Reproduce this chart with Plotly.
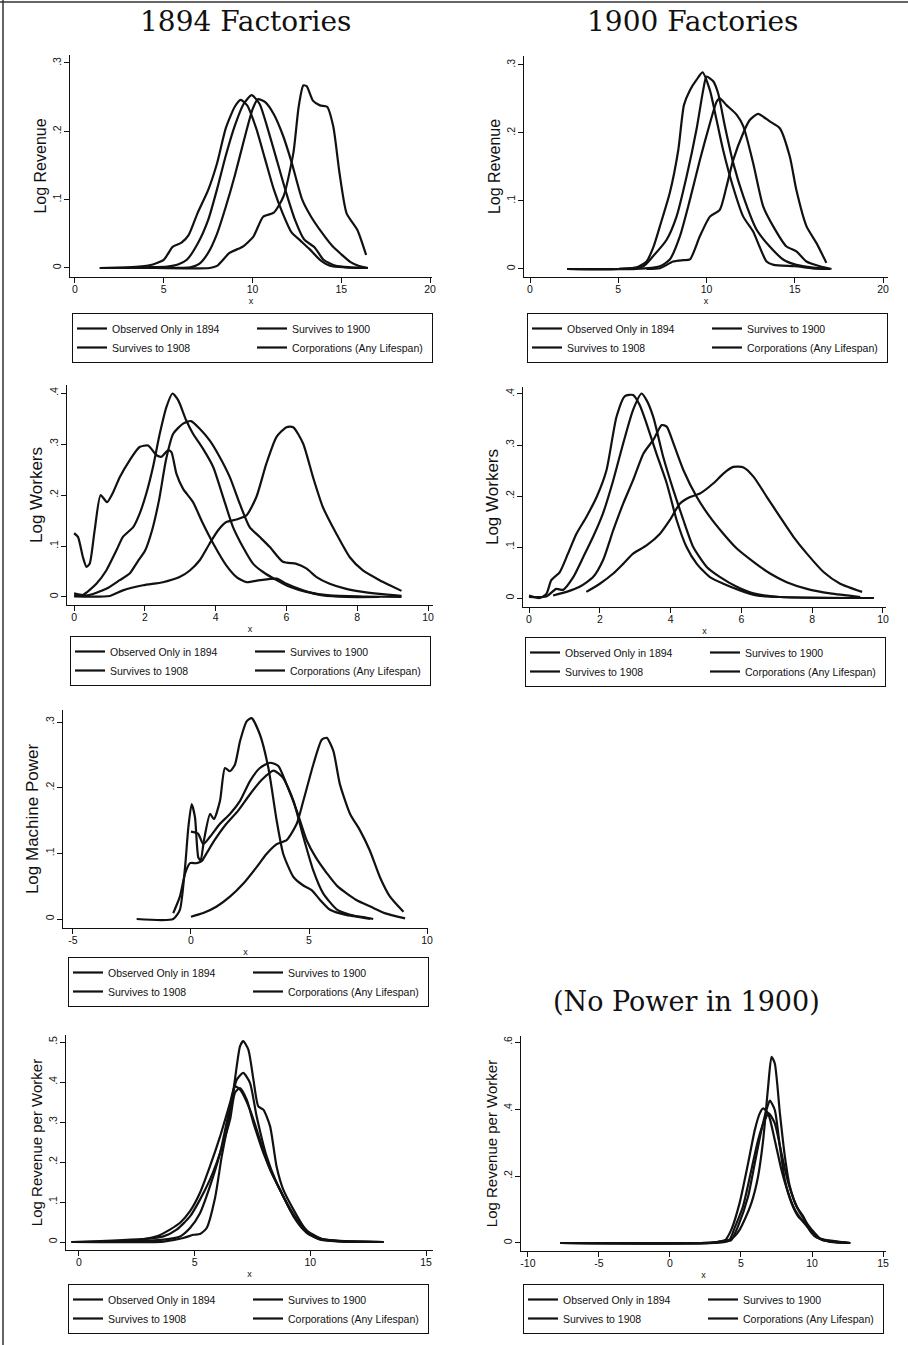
import plotly.graph_objects as go

W, H = 908, 1345

SERIES = ["Observed Only in 1894", "Survives to 1900", "Survives to 1908", "Corporations (Any Lifespan)"]

# ---------------- Panel 1: Log Revenue, 1894 ----------------
p1_obs_x = [1.4, 3.0, 4.2, 5.0, 5.5, 6.0, 6.4, 6.9, 7.5, 8.0, 8.5, 9.0, 9.33, 9.7, 10.2, 10.7, 11.2, 11.7, 12.2, 12.7, 13.2, 13.8, 14.4, 15.2, 16.4]
p1_obs_y = [0, 0.001, 0.004, 0.012, 0.031, 0.037, 0.048, 0.08, 0.114, 0.153, 0.205, 0.236, 0.246, 0.238, 0.205, 0.16, 0.115, 0.08, 0.052, 0.04, 0.028, 0.012, 0.003, 0.001, 0]
p1_s1900_x = [1.4, 4.0, 5.2, 5.8, 6.3, 6.9, 7.5, 8.0, 8.5, 9.0, 9.5, 9.95, 10.4, 10.9, 11.4, 11.9, 12.4, 12.9, 13.5, 14.0, 14.7, 15.5, 16.5]
p1_s1900_y = [0, 0.001, 0.002, 0.005, 0.012, 0.035, 0.07, 0.115, 0.165, 0.208, 0.24, 0.253, 0.24, 0.2, 0.155, 0.11, 0.07, 0.042, 0.03, 0.012, 0.003, 0.001, 0]
p1_s1908_x = [1.4, 5.0, 6.5, 7.0, 7.5, 8.0, 8.5, 9.0, 9.5, 10.0, 10.3, 10.7, 11.2, 11.7, 12.2, 12.8, 13.3, 13.9, 14.5, 15.0, 15.5, 16.0, 16.5]
p1_s1908_y = [0, 0, 0.001, 0.006, 0.022, 0.05, 0.09, 0.135, 0.185, 0.232, 0.247, 0.243, 0.225, 0.195, 0.155, 0.1, 0.075, 0.052, 0.032, 0.02, 0.009, 0.003, 0]
p1_corp_x = [4.5, 7.6, 8.0, 8.7, 9.2, 9.5, 10.05, 10.6, 11.2, 11.75, 12.3, 12.6, 12.86, 13.05, 13.4, 13.8, 14.2, 14.55, 14.9, 15.3, 15.9, 16.4]
p1_corp_y = [0, 0, 0.003, 0.022, 0.028, 0.032, 0.046, 0.075, 0.081, 0.105, 0.168, 0.236, 0.267, 0.266, 0.245, 0.238, 0.236, 0.207, 0.139, 0.08, 0.056, 0.019]

# ---------------- Panel 2: Log Revenue, 1900 ----------------
p2_obs_x = [2.1, 5.0, 6.0, 6.6, 7.0, 7.36, 7.92, 8.4, 8.72, 9.06, 9.43, 9.77, 10.19, 10.57, 10.94, 11.5, 12.08, 12.64, 13.0, 13.4, 13.8, 15.0, 16.0, 17.0]
p2_obs_y = [0, 0, 0.002, 0.011, 0.033, 0.063, 0.112, 0.175, 0.241, 0.263, 0.278, 0.289, 0.263, 0.219, 0.175, 0.121, 0.077, 0.055, 0.033, 0.011, 0.006, 0.004, 0.001, 0]
p2_s1900_x = [2.1, 5.0, 6.42, 6.98, 7.74, 8.3, 8.87, 9.43, 9.81, 10.0, 10.38, 10.66, 11.04, 11.51, 12.08, 12.83, 13.58, 14.34, 15.09, 16.04, 16.98]
p2_s1900_y = [0, 0, 0.004, 0.019, 0.043, 0.077, 0.136, 0.205, 0.263, 0.283, 0.276, 0.258, 0.21, 0.156, 0.107, 0.058, 0.033, 0.014, 0.006, 0.002, 0]
p2_s1908_x = [2.1, 6.0, 7.36, 7.92, 8.49, 9.06, 9.62, 10.19, 10.57, 10.75, 11.13, 11.7, 12.08, 12.64, 13.21, 13.77, 14.53, 15.09, 15.66, 16.42, 17.08]
p2_s1908_y = [0, 0, 0.004, 0.014, 0.048, 0.102, 0.16, 0.214, 0.246, 0.251, 0.241, 0.227, 0.21, 0.156, 0.092, 0.063, 0.033, 0.026, 0.011, 0.004, 0]
p2_corp_x = [6.6, 7.36, 8.11, 8.68, 9.06, 9.62, 10.19, 10.75, 11.13, 11.51, 12.08, 12.45, 12.92, 13.58, 14.15, 14.72, 15.09, 15.66, 16.23, 16.79]
p2_corp_y = [0, 0.001, 0.011, 0.013, 0.014, 0.048, 0.077, 0.087, 0.121, 0.16, 0.2, 0.219, 0.228, 0.217, 0.207, 0.165, 0.116, 0.063, 0.038, 0.009]

# ---------------- Panel 3: Log Workers, 1894 ----------------
p3_obs_x = [0, 0.11, 0.25, 0.35, 0.44, 0.58, 0.75, 0.93, 1.10, 1.29, 1.57, 1.85, 2.09, 2.33, 2.47, 2.66, 2.75, 2.89, 3.08, 3.36, 3.64, 3.93, 4.30, 4.59, 4.87, 5.25, 5.72, 6.0, 6.47, 7.03, 7.69, 8.63]
p3_obs_y = [0.125, 0.118, 0.078, 0.059, 0.065, 0.13, 0.2, 0.186, 0.205, 0.235, 0.268, 0.294, 0.297, 0.278, 0.275, 0.288, 0.284, 0.242, 0.212, 0.186, 0.144, 0.105, 0.062, 0.039, 0.029, 0.033, 0.036, 0.026, 0.013, 0.003, 0.0, 0.0]
p3_s1900_x = [0, 0.25, 0.63, 0.91, 1.2, 1.38, 1.67, 1.85, 2.04, 2.23, 2.42, 2.61, 2.78, 2.94, 3.17, 3.36, 3.64, 3.93, 4.21, 4.49, 4.77, 5.06, 5.34, 5.72, 6.09, 6.56, 7.22, 8.16, 9.25]
p3_s1900_y = [0.003, 0.004, 0.026, 0.052, 0.092, 0.118, 0.137, 0.163, 0.203, 0.255, 0.32, 0.373, 0.399, 0.386, 0.346, 0.32, 0.291, 0.255, 0.196, 0.137, 0.098, 0.065, 0.049, 0.033, 0.02, 0.01, 0.003, 0.001, 0]
p3_s1908_x = [0, 0.35, 0.91, 1.29, 1.57, 1.8, 2.0, 2.2, 2.4, 2.6, 2.8, 3.08, 3.3, 3.55, 3.83, 4.11, 4.4, 4.68, 4.96, 5.24, 5.53, 5.9, 6.28, 6.56, 6.85, 7.22, 7.69, 8.16, 8.63, 9.25]
p3_s1908_y = [0.007, 0.003, 0.016, 0.033, 0.046, 0.07, 0.09, 0.13, 0.19, 0.27, 0.32, 0.34, 0.345, 0.33, 0.307, 0.275, 0.235, 0.183, 0.137, 0.118, 0.098, 0.069, 0.065, 0.056, 0.039, 0.026, 0.016, 0.01, 0.006, 0.002]
p3_corp_x = [0, 1.01, 1.38, 1.95, 2.51, 2.98, 3.27, 3.55, 3.83, 4.07, 4.3, 4.59, 4.87, 5.15, 5.43, 5.72, 6.0, 6.19, 6.47, 6.75, 7.03, 7.41, 7.79, 8.16, 8.63, 8.92, 9.25]
p3_corp_y = [0.001, 0.002, 0.013, 0.023, 0.029, 0.039, 0.052, 0.072, 0.105, 0.131, 0.147, 0.152, 0.16, 0.196, 0.261, 0.314, 0.333, 0.333, 0.301, 0.235, 0.176, 0.124, 0.078, 0.052, 0.033, 0.023, 0.012]

# ---------------- Panel 4: Log Workers, 1900 ----------------
p4_obs_x = [0, 0.3, 0.49, 0.63, 0.87, 1.1, 1.34, 1.62, 1.91, 2.19, 2.47, 2.71, 2.94, 3.13, 3.32, 3.6, 3.89, 4.17, 4.45, 4.74, 5.11, 5.49, 5.96, 6.43, 7.09, 9.74]
p4_obs_y = [0.005, 0.0, 0.008, 0.035, 0.051, 0.087, 0.126, 0.159, 0.198, 0.251, 0.355, 0.396, 0.398, 0.378, 0.342, 0.283, 0.225, 0.153, 0.1, 0.067, 0.041, 0.028, 0.015, 0.005, 0.002, 0]
p4_s1900_x = [0, 0.49, 0.77, 0.96, 1.25, 1.53, 1.81, 2.09, 2.38, 2.66, 2.94, 3.18, 3.32, 3.51, 3.79, 4.08, 4.36, 4.64, 5.02, 5.4, 5.87, 6.34, 7.09, 9.74]
p4_s1900_y = [0.002, 0.003, 0.018, 0.016, 0.041, 0.08, 0.12, 0.166, 0.231, 0.303, 0.369, 0.401, 0.388, 0.355, 0.277, 0.211, 0.153, 0.1, 0.061, 0.041, 0.022, 0.009, 0.002, 0]
p4_s1908_x = [0.68, 1.06, 1.43, 1.81, 2.09, 2.38, 2.66, 2.94, 3.23, 3.51, 3.75, 3.89, 4.08, 4.36, 4.74, 5.11, 5.49, 5.87, 6.34, 6.81, 7.28, 7.85, 8.51, 9.36]
p4_s1908_y = [0.005, 0.012, 0.022, 0.041, 0.074, 0.133, 0.185, 0.231, 0.283, 0.31, 0.339, 0.336, 0.303, 0.251, 0.198, 0.159, 0.126, 0.097, 0.071, 0.048, 0.031, 0.018, 0.009, 0.002]
p4_corp_x = [1.62, 2.0, 2.38, 2.66, 2.94, 3.32, 3.7, 3.98, 4.26, 4.55, 4.83, 5.21, 5.49, 5.77, 6.06, 6.34, 6.72, 7.09, 7.47, 7.85, 8.32, 8.79, 9.41]
p4_corp_y = [0.012, 0.028, 0.048, 0.067, 0.087, 0.103, 0.126, 0.153, 0.185, 0.198, 0.205, 0.225, 0.244, 0.257, 0.256, 0.238, 0.198, 0.159, 0.12, 0.087, 0.051, 0.028, 0.012]

# ---------------- Panel 5: Log Machine Power, 1894 ----------------
p5_obs_x = [-2.3, -0.75, -0.47, -0.25, -0.11, 0.03, 0.17, 0.31, 0.41, 0.55, 0.81, 0.97, 1.23, 1.44, 1.65, 1.86, 2.08, 2.36, 2.57, 2.92, 3.28, 3.63, 3.91, 4.34, 4.76, 5.11, 5.47, 5.89, 6.6, 7.3, 7.72]
p5_obs_y = [0, 0, 0.014, 0.079, 0.14, 0.175, 0.155, 0.094, 0.089, 0.12, 0.16, 0.152, 0.18, 0.23, 0.225, 0.235, 0.271, 0.301, 0.306, 0.281, 0.23, 0.15, 0.099, 0.064, 0.051, 0.044, 0.029, 0.014, 0.006, 0.003, 0]
p5_s1900_x = [0.0, 0.3, 0.52, 0.8, 1.23, 1.65, 2.08, 2.5, 2.92, 3.35, 3.7, 4.05, 4.48, 4.9, 5.3, 5.75, 6.2, 7.0, 7.6, 8.2, 9.07]
p5_s1900_y = [0.133, 0.13, 0.114, 0.125, 0.145, 0.16, 0.18, 0.21, 0.23, 0.238, 0.233, 0.205, 0.165, 0.12, 0.093, 0.07, 0.05, 0.029, 0.019, 0.009, 0.001]
p5_s1908_x = [-0.75, -0.47, -0.25, -0.04, 0.24, 0.45, 0.66, 1.0, 1.5, 2.0, 2.5, 3.0, 3.5, 3.9, 4.34, 4.76, 5.18, 5.6, 6.2, 7.0, 7.6]
p5_s1908_y = [0.009, 0.034, 0.069, 0.085, 0.085, 0.088, 0.1, 0.12, 0.145, 0.165, 0.19, 0.212, 0.226, 0.215, 0.18, 0.125, 0.074, 0.039, 0.014, 0.004, 0]
p5_corp_x = [0.0, 0.52, 1.09, 1.65, 2.22, 2.78, 3.2, 3.63, 4.05, 4.48, 4.76, 5.18, 5.54, 5.75, 6.03, 6.31, 6.74, 7.16, 7.58, 8.0, 8.43, 9.0]
p5_corp_y = [0.0035, 0.009, 0.019, 0.034, 0.054, 0.079, 0.099, 0.114, 0.12, 0.145, 0.18, 0.235, 0.273, 0.276, 0.256, 0.205, 0.16, 0.135, 0.104, 0.064, 0.034, 0.011]

# ---------------- Panel 6: Log Revenue per Worker, 1894 ----------------
p6_obs_x = [-0.32, 3.65, 4.51, 4.94, 5.23, 5.52, 5.88, 6.17, 6.53, 6.74, 6.96, 7.1, 7.32, 7.54, 7.75, 7.97, 8.26, 8.54, 8.83, 9.27, 9.7, 10.13, 10.85, 13.16]
p6_obs_y = [0, 0.001, 0.01, 0.018, 0.02, 0.035, 0.11, 0.214, 0.323, 0.406, 0.489, 0.502, 0.481, 0.406, 0.339, 0.331, 0.289, 0.189, 0.131, 0.081, 0.039, 0.014, 0.004, 0]
p6_s1900_x = [-0.32, 2.0, 3.65, 4.37, 4.8, 5.23, 5.66, 6.1, 6.53, 6.82, 7.1, 7.39, 7.68, 8.11, 8.54, 8.98, 9.41, 9.84, 10.42, 11.4, 13.16]
p6_s1900_y = [0, 0.001, 0.006, 0.014, 0.035, 0.072, 0.139, 0.223, 0.339, 0.406, 0.423, 0.398, 0.314, 0.214, 0.148, 0.098, 0.056, 0.023, 0.006, 0.001, 0]
p6_s1908_x = [-0.32, 2.9, 3.65, 4.22, 4.8, 5.23, 5.66, 5.95, 6.24, 6.53, 6.74, 6.96, 7.25, 7.54, 7.97, 8.4, 8.83, 9.27, 9.7, 10.27, 11.5, 13.16]
p6_s1908_y = [0, 0.008, 0.014, 0.031, 0.064, 0.106, 0.156, 0.198, 0.248, 0.306, 0.373, 0.385, 0.356, 0.298, 0.223, 0.164, 0.114, 0.064, 0.031, 0.01, 0.002, 0]
p6_corp_x = [-0.32, 2.2, 3.36, 3.93, 4.37, 4.8, 5.23, 5.66, 6.1, 6.53, 6.74, 6.96, 7.39, 7.82, 8.26, 8.69, 9.12, 9.7, 10.13, 10.56, 11.5, 13.16]
p6_corp_y = [0, 0.002, 0.014, 0.031, 0.048, 0.077, 0.123, 0.189, 0.264, 0.348, 0.389, 0.381, 0.331, 0.256, 0.181, 0.131, 0.081, 0.035, 0.018, 0.006, 0.001, 0]

# ---------------- Panel 7: Log Revenue per Worker, 1900 ----------------
p7_obs_x = [-7.71, 3.14, 4.08, 4.55, 4.91, 5.26, 5.73, 6.2, 6.56, 6.91, 7.15, 7.38, 7.74, 8.09, 8.44, 8.92, 9.39, 9.86, 10.45, 12.69]
p7_obs_y = [0, 0, 0.005, 0.02, 0.04, 0.07, 0.119, 0.198, 0.307, 0.466, 0.556, 0.536, 0.387, 0.258, 0.169, 0.109, 0.079, 0.04, 0.015, 0]
p7_s1900_x = [-7.71, 3.0, 3.85, 4.3, 4.79, 5.5, 5.97, 6.44, 6.79, 7.03, 7.38, 7.74, 8.09, 8.56, 9.03, 9.5, 9.98, 10.68, 12.69]
p7_s1900_y = [0, 0.001, 0.007, 0.008, 0.05, 0.139, 0.238, 0.337, 0.397, 0.425, 0.397, 0.288, 0.188, 0.119, 0.079, 0.06, 0.03, 0.01, 0]
p7_s1908_x = [-7.71, 3.0, 3.85, 4.32, 4.9, 5.5, 5.97, 6.32, 6.56, 6.91, 7.38, 7.85, 8.33, 8.8, 9.27, 9.74, 10.2, 11.3, 12.69]
p7_s1908_y = [0, 0.001, 0.007, 0.04, 0.119, 0.238, 0.337, 0.387, 0.402, 0.387, 0.307, 0.218, 0.149, 0.099, 0.069, 0.045, 0.02, 0.003, 0]
p7_corp_x = [-7.71, 3.0, 3.85, 4.2, 4.55, 5.14, 5.73, 6.2, 6.67, 6.96, 7.38, 7.85, 8.33, 8.92, 9.39, 9.98, 10.68, 12.69]
p7_corp_y = [0, 0.001, 0.007, 0.01, 0.045, 0.109, 0.218, 0.307, 0.367, 0.387, 0.357, 0.268, 0.179, 0.109, 0.074, 0.04, 0.01, 0]

# ---------------- Axis titles / ticks ----------------
y_titles = ["Log Revenue", "Log Revenue", "Log Workers", "Log Workers", "Log Machine Power",
            "Log Revenue per Worker", "Log Revenue per Worker"]
x_tickvals = [[0, 5, 10, 15, 20], [0, 5, 10, 15, 20], [0, 2, 4, 6, 8, 10], [0, 2, 4, 6, 8, 10],
              [-5, 0, 5, 10], [0, 5, 10, 15], [-10, -5, 0, 5, 10, 15]]
x_ticktext = [["0", "5", "10", "15", "20"], ["0", "5", "10", "15", "20"],
              ["0", "2", "4", "6", "8", "10"], ["0", "2", "4", "6", "8", "10"],
              ["-5", "0", "5", "10"], ["0", "5", "10", "15"], ["-10", "-5", "0", "5", "10", "15"]]
y_tickvals = [[0, 0.1, 0.2, 0.3], [0, 0.1, 0.2, 0.3], [0, 0.1, 0.2, 0.3, 0.4], [0, 0.1, 0.2, 0.3, 0.4],
              [0, 0.1, 0.2, 0.3], [0, 0.1, 0.2, 0.3, 0.4, 0.5], [0, 0.2, 0.4, 0.6]]
y_ticktext = [["0", ".1", ".2", ".3"], ["0", ".1", ".2", ".3"], ["0", ".1", ".2", ".3", ".4"],
              ["0", ".1", ".2", ".3", ".4"], ["0", ".1", ".2", ".3"],
              ["0", ".1", ".2", ".3", ".4", ".5"], ["0", ".2", ".4", ".6"]]

panel_data = [
    [(p1_obs_x, p1_obs_y), (p1_s1900_x, p1_s1900_y), (p1_s1908_x, p1_s1908_y), (p1_corp_x, p1_corp_y)],
    [(p2_obs_x, p2_obs_y), (p2_s1900_x, p2_s1900_y), (p2_s1908_x, p2_s1908_y), (p2_corp_x, p2_corp_y)],
    [(p3_obs_x, p3_obs_y), (p3_s1900_x, p3_s1900_y), (p3_s1908_x, p3_s1908_y), (p3_corp_x, p3_corp_y)],
    [(p4_obs_x, p4_obs_y), (p4_s1900_x, p4_s1900_y), (p4_s1908_x, p4_s1908_y), (p4_corp_x, p4_corp_y)],
    [(p5_obs_x, p5_obs_y), (p5_s1900_x, p5_s1900_y), (p5_s1908_x, p5_s1908_y), (p5_corp_x, p5_corp_y)],
    [(p6_obs_x, p6_obs_y), (p6_s1900_x, p6_s1900_y), (p6_s1908_x, p6_s1908_y), (p6_corp_x, p6_corp_y)],
    [(p7_obs_x, p7_obs_y), (p7_s1900_x, p7_s1900_y), (p7_s1908_x, p7_s1908_y), (p7_corp_x, p7_corp_y)],
]

# ---------------- Layout geometry (pixels) ----------------
# plot boxes: (left, right, top, bottom)
boxes = [(70, 432, 55, 277), (524, 888, 56, 277), (67, 433, 385, 605), (523, 886, 387, 607),
         (63, 428, 710, 928), (66, 433, 1035, 1250), (521, 886, 1036, 1251)]
x_ranges = [[-0.28, 20.11], [-0.34, 20.28], [-0.2, 10.14], [-0.17, 10.085],
            [-5.42, 10.04], [-0.56, 15.3], [-10.49, 15.21]]
y_ranges = [[-0.0132, 0.3117], [-0.0118, 0.3132], [-0.0157, 0.4157], [-0.0176, 0.4137],
            [-0.0137, 0.3183], [-0.02, 0.5175], [-0.0239, 0.618]]
ytitle_sizes = [16, 16, 17, 17, 17, 15, 15]
legend_pos = [(72, 313), (527, 313), (70, 636), (525, 637), (68, 957), (68, 1284), (523, 1284)]

FONT = "Liberation Sans, Arial, Helvetica, sans-serif"
SERIF = "DejaVu Serif, Liberation Serif, serif"
INK = "#111111"

fig = go.Figure()
layout = dict(width=W, height=H, margin=dict(l=0, r=0, t=0, b=0, autoexpand=False),
              paper_bgcolor="white", plot_bgcolor="white", showlegend=True,
              font=dict(family=FONT, color=INK))

group_of = [0, 1, 0, 1]  # two legend columns: (1894, 1908) | (1900, Corporations)

for k in range(7):
    n = "" if k == 0 else str(k + 1)
    xa, ya = "x" + n, "y" + n
    lg = "legend" + n
    for s in range(4):
        xs, ys = panel_data[k][s]
        fig.add_trace(go.Scatter(
            x=xs, y=ys, mode="lines", name=SERIES[s],
            line=dict(color=INK, width=2.2, shape="spline", smoothing=0.6),
            xaxis=xa, yaxis=ya, legend=lg, legendgroup=f"p{k}g{group_of[s]}",
            showlegend=True, hoverinfo="skip"))
    l, r, t, b = boxes[k]
    layout["xaxis" + n] = dict(
        domain=[l / W, r / W], range=x_ranges[k], anchor=ya,
        showline=True, linecolor=INK, linewidth=1.3, showgrid=False, zeroline=False,
        ticks="outside", ticklen=5, tickwidth=1.3, tickcolor=INK,
        tickvals=x_tickvals[k], ticktext=x_ticktext[k], ticklabelstandoff=-3,
        tickfont=dict(size=10.5, family=FONT, color=INK),
        title=dict(text="x", font=dict(size=9, family=FONT, color=INK), standoff=3),
        automargin=False, fixedrange=True)
    layout["yaxis" + n] = dict(
        domain=[1 - b / H, 1 - t / H], range=y_ranges[k], anchor=xa,
        showline=True, linecolor=INK, linewidth=1.3, showgrid=False, zeroline=False,
        ticks="outside", ticklen=5, tickwidth=1.3, tickcolor=INK,
        tickvals=y_tickvals[k], ticktext=y_ticktext[k], tickangle=-90, ticklabelstandoff=-1,
        tickfont=dict(size=10.5, family=FONT, color=INK),
        title=dict(text=y_titles[k], font=dict(size=ytitle_sizes[k], family=FONT, color=INK), standoff=0),
        automargin=False, fixedrange=True)
    lx, ly = legend_pos[k]
    layout[lg] = dict(
        x=lx / W, y=1 - ly / H, xanchor="left", yanchor="top",
        orientation="h", traceorder="grouped", tracegroupgap=0,
        bordercolor=INK, borderwidth=1, bgcolor="white",
        font=dict(size=10.5, family=FONT, color=INK),
        itemwidth=30, entrywidth=135, itemclick=False, itemdoubleclick=False)

layout["annotations"] = [
    dict(text="1894 Factories", x=245 / W, y=1 - 22 / H, xref="paper", yref="paper",
         showarrow=False, font=dict(size=28, family=SERIF, color=INK), xanchor="center", yanchor="middle"),
    dict(text="1900 Factories", x=692 / W, y=1 - 22 / H, xref="paper", yref="paper",
         showarrow=False, font=dict(size=28, family=SERIF, color=INK), xanchor="center", yanchor="middle"),
    dict(text="(No Power in 1900)", x=686 / W, y=1 - 1001 / H, xref="paper", yref="paper",
         showarrow=False, font=dict(size=27, family=SERIF, color=INK), xanchor="center", yanchor="middle"),
]
# scanned-page frame (top and left edges)
layout["shapes"] = [
    dict(type="line", xref="paper", yref="paper", x0=0, x1=1, y0=1 - 2 / H, y1=1 - 2 / H,
         line=dict(color="#333333", width=1.5)),
    dict(type="line", xref="paper", yref="paper", x0=3 / W, x1=3 / W, y0=0, y1=1,
         line=dict(color="#333333", width=1.5)),
]

fig.update_layout(**layout)
fig.write_html("out.html")
